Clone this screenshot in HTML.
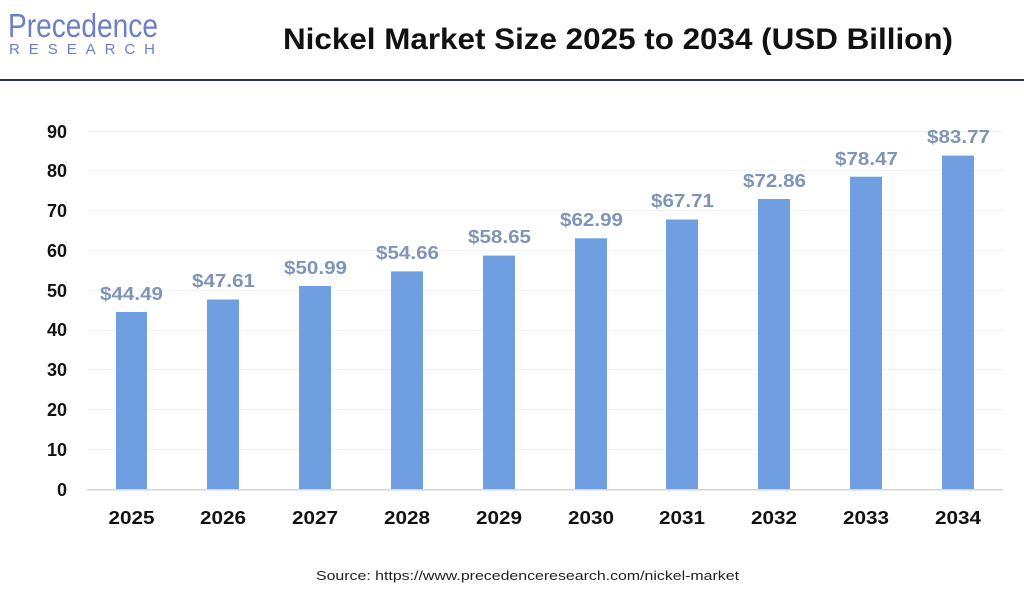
<!DOCTYPE html>
<html><head><meta charset="utf-8"><style>
body{margin:0;width:1024px;height:589px;background:#fff;overflow:hidden;font-family:"Liberation Sans",sans-serif;position:relative}
</style></head><body>
<svg width="1024" height="589" xmlns="http://www.w3.org/2000/svg" style="position:absolute;left:0;top:0">
<text x="8" y="37" font-family="Liberation Sans" font-size="33" fill="#6c7fc7" textLength="150" lengthAdjust="spacingAndGlyphs">Precedence</text>
<text x="9" y="54" font-family="Liberation Sans" font-size="15" fill="#6c7fc7" textLength="146" lengthAdjust="spacing">RESEARCH</text>
<text x="283" y="49" font-family="Liberation Sans" font-weight="bold" font-size="30" fill="#111" textLength="670" lengthAdjust="spacingAndGlyphs">Nickel Market Size 2025 to 2034 (USD Billion)</text>
<rect x="0" y="79" width="1024" height="2" fill="#2b2d5a"/>
<g font-family="Liberation Sans" font-weight="bold" font-size="18" fill="#111" text-anchor="end">
<text x="67" y="496">0</text><text x="67" y="456">10</text><text x="67" y="416">20</text><text x="67" y="376">30</text><text x="67" y="336">40</text><text x="67" y="297">50</text><text x="67" y="257">60</text><text x="67" y="217">70</text><text x="67" y="177">80</text><text x="67" y="138">90</text>
</g>
<g fill="#f2f2f2"><rect x="87" y="449" width="916" height="1"/><rect x="87" y="409" width="916" height="1"/><rect x="87" y="369" width="916" height="1"/><rect x="87" y="330" width="916" height="1"/><rect x="87" y="290" width="916" height="1"/><rect x="87" y="250" width="916" height="1"/><rect x="87" y="210" width="916" height="1"/><rect x="87" y="170" width="916" height="1"/><rect x="87" y="131" width="916" height="1"/></g>
<rect x="87" y="489" width="916" height="1.5" fill="#d0d6e2"/>
<text x="316" y="580" font-family="Liberation Sans" font-size="13" fill="#222" textLength="423" lengthAdjust="spacingAndGlyphs">Source: https://www.precedenceresearch.com/nickel-market</text>
<g fill="#6f9fe0">
<rect x="116" y="312" width="31" height="177"/>
<rect x="207" y="299.5" width="32" height="189.5"/>
<rect x="299" y="286" width="32" height="203"/>
<rect x="391" y="271.4" width="32" height="217.6"/>
<rect x="483" y="255.6" width="32" height="233.4"/>
<rect x="575" y="238.3" width="32" height="250.7"/>
<rect x="666" y="219.5" width="32" height="269.5"/>
<rect x="758" y="199" width="32" height="290"/>
<rect x="850" y="176.7" width="32" height="312.3"/>
<rect x="942" y="155.6" width="32" height="333.4"/>
</g>
<g font-family="Liberation Sans" font-weight="bold" font-size="18" fill="#7f95b8">
<text x="100" y="300" textLength="63" lengthAdjust="spacingAndGlyphs">$44.49</text><text x="192" y="287" textLength="63" lengthAdjust="spacingAndGlyphs">$47.61</text><text x="284" y="274" textLength="63" lengthAdjust="spacingAndGlyphs">$50.99</text><text x="376" y="259" textLength="63" lengthAdjust="spacingAndGlyphs">$54.66</text><text x="468" y="243" textLength="63" lengthAdjust="spacingAndGlyphs">$58.65</text><text x="560" y="226" textLength="63" lengthAdjust="spacingAndGlyphs">$62.99</text><text x="651" y="207" textLength="63" lengthAdjust="spacingAndGlyphs">$67.71</text><text x="743" y="187" textLength="63" lengthAdjust="spacingAndGlyphs">$72.86</text><text x="835" y="165" textLength="63" lengthAdjust="spacingAndGlyphs">$78.47</text><text x="927" y="143" textLength="63" lengthAdjust="spacingAndGlyphs">$83.77</text>
</g>
<g font-family="Liberation Sans" font-weight="bold" font-size="18" fill="#111">
<text x="108.5" y="524" textLength="46" lengthAdjust="spacingAndGlyphs">2025</text><text x="200" y="524" textLength="46" lengthAdjust="spacingAndGlyphs">2026</text><text x="292" y="524" textLength="46" lengthAdjust="spacingAndGlyphs">2027</text><text x="384" y="524" textLength="46" lengthAdjust="spacingAndGlyphs">2028</text><text x="476" y="524" textLength="46" lengthAdjust="spacingAndGlyphs">2029</text><text x="568" y="524" textLength="46" lengthAdjust="spacingAndGlyphs">2030</text><text x="659" y="524" textLength="46" lengthAdjust="spacingAndGlyphs">2031</text><text x="751" y="524" textLength="46" lengthAdjust="spacingAndGlyphs">2032</text><text x="843" y="524" textLength="46" lengthAdjust="spacingAndGlyphs">2033</text><text x="935" y="524" textLength="46" lengthAdjust="spacingAndGlyphs">2034</text>
</g>
</svg>
</body></html>
